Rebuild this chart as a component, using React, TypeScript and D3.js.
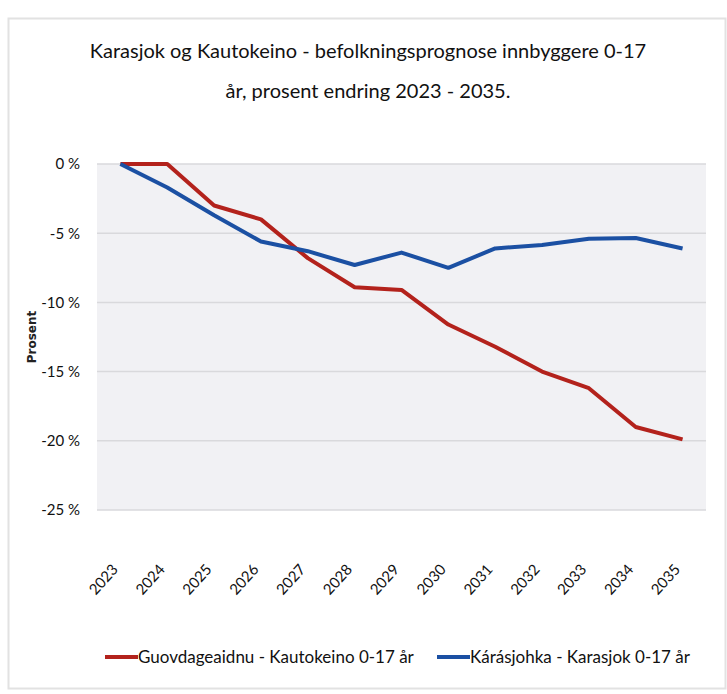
import React, { useEffect, useRef } from "react";
import * as d3 from "d3";

const years = ["2023", "2024", "2025", "2026", "2027", "2028", "2029", "2030", "2031", "2032", "2033", "2034", "2035"];
// prosent endring fra 2023
const kautokeino = [0, 0, -3.0, -4.0, -6.8, -8.9, -9.1, -11.6, -13.2, -15.0, -16.2, -19.0, -19.9];
const karasjok = [0, -1.7, -3.7, -5.6, -6.3, -7.3, -6.4, -7.5, -6.1, -5.85, -5.4, -5.35, -6.1];
const yTicks = [0, -5, -10, -15, -20, -25];

const seriesNames = ["Guovdageaidnu - Kautokeino 0-17 år", "Kárásjohka - Karasjok 0-17 år"];
const seriesColors = ["#b3221c", "#1b50a3"];

const W = 727;
const H = 694;
const font = "Lato, 'Liberation Sans', sans-serif";

const App = () => {
  const svgRef = useRef<SVGSVGElement | null>(null);

  useEffect(() => {
    const svg = d3.select(svgRef.current);
    svg.selectAll("*").remove();

    const margin = { top: 164, right: 21, bottom: 184, left: 97 };
    const width = W - margin.left - margin.right;
    const height = H - margin.top - margin.bottom;

    // outer frame
    svg.append("rect").attr("width", W).attr("height", H).attr("fill", "#fff");
    svg
      .append("rect")
      .attr("x", 8.5)
      .attr("y", 18.5)
      .attr("width", W - 10)
      .attr("height", H - 24)
      .attr("fill", "#fff")
      .attr("stroke", "#e2e2e2")
      .attr("stroke-width", 2);

    // title
    const title = svg
      .append("text")
      .attr("text-anchor", "middle")
      .attr("font-family", font)
      .attr("font-size", 20)
      .attr("fill", "#111");
    title.append("tspan").attr("x", 368).attr("y", 58).text("Karasjok og Kautokeino - befolkningsprognose innbyggere 0-17");
    title.append("tspan").attr("x", 368).attr("y", 98).text("år, prosent endring 2023 - 2035.");

    const g = svg.append("g").attr("transform", `translate(${margin.left},${margin.top})`);

    const x = d3.scalePoint<string>().domain(years).range([0, width]).padding(0.5);
    const y = d3.scaleLinear().domain([-25, 0]).range([height, 0]);

    g.append("rect").attr("width", width).attr("height", height).attr("fill", "#f1f1f4");

    // grid
    g.selectAll(".grid")
      .data(yTicks)
      .join("line")
      .attr("x1", 0)
      .attr("x2", width)
      .attr("y1", (d) => y(d))
      .attr("y2", (d) => y(d))
      .attr("stroke", "#d9d9dc")
      .attr("stroke-width", 1.5);

    // y axis
    const yAxis = g
      .append("g")
      .call(
        d3
          .axisLeft(y)
          .tickValues(yTicks)
          .tickSize(0)
          .tickPadding(17)
          .tickFormat((d) => `${d} %`)
      );
    yAxis.select(".domain").remove();
    yAxis.selectAll("text").attr("font-family", font).attr("font-size", 15).attr("fill", "#111");

    // x axis
    const xAxis = g
      .append("g")
      .attr("transform", `translate(0,${height})`)
      .call(d3.axisBottom(x).tickSize(0).tickPadding(0));
    xAxis.select(".domain").remove();
    xAxis
      .selectAll("text")
      .attr("font-family", font)
      .attr("font-size", 15)
      .attr("fill", "#111")
      .attr("text-anchor", "end")
      .attr("dy", 0)
      .attr("transform", "translate(-2,60) rotate(-48)");

    // y label
    svg
      .append("text")
      .attr("transform", `translate(36,${margin.top + height / 2}) rotate(-90)`)
      .attr("text-anchor", "middle")
      .attr("font-family", "'DejaVu Sans', sans-serif")
      .attr("font-weight", "bold")
      .attr("font-size", 12)
      .attr("fill", "#222")
      .text("Prosent");

    // lines
    const line = d3
      .line<number>()
      .x((_, i) => x(years[i]) as number)
      .y((d) => y(d));

    [kautokeino, karasjok].forEach((s, i) => {
      g.append("path")
        .datum(s)
        .attr("d", line)
        .attr("fill", "none")
        .attr("stroke", seriesColors[i])
        .attr("stroke-width", 4)
        .attr("stroke-linejoin", "round");
    });

    // legend
    const legendX = [105, 437];
    const legend = svg.append("g").attr("transform", "translate(0,657)");
    seriesNames.forEach((name, i) => {
      legend
        .append("line")
        .attr("x1", legendX[i])
        .attr("x2", legendX[i] + 33)
        .attr("stroke", seriesColors[i])
        .attr("stroke-width", 4);
      legend
        .append("text")
        .attr("x", legendX[i] + 33)
        .attr("y", 6)
        .attr("font-family", font)
        .attr("font-size", 17)
        .attr("fill", "#111")
        .text(name);
    });
  }, []);

  return (
    <svg
      ref={svgRef}
      width={W}
      height={H}
      style={{ position: "absolute", left: 0, top: 0 }}
    />
  );
};

export default App;
